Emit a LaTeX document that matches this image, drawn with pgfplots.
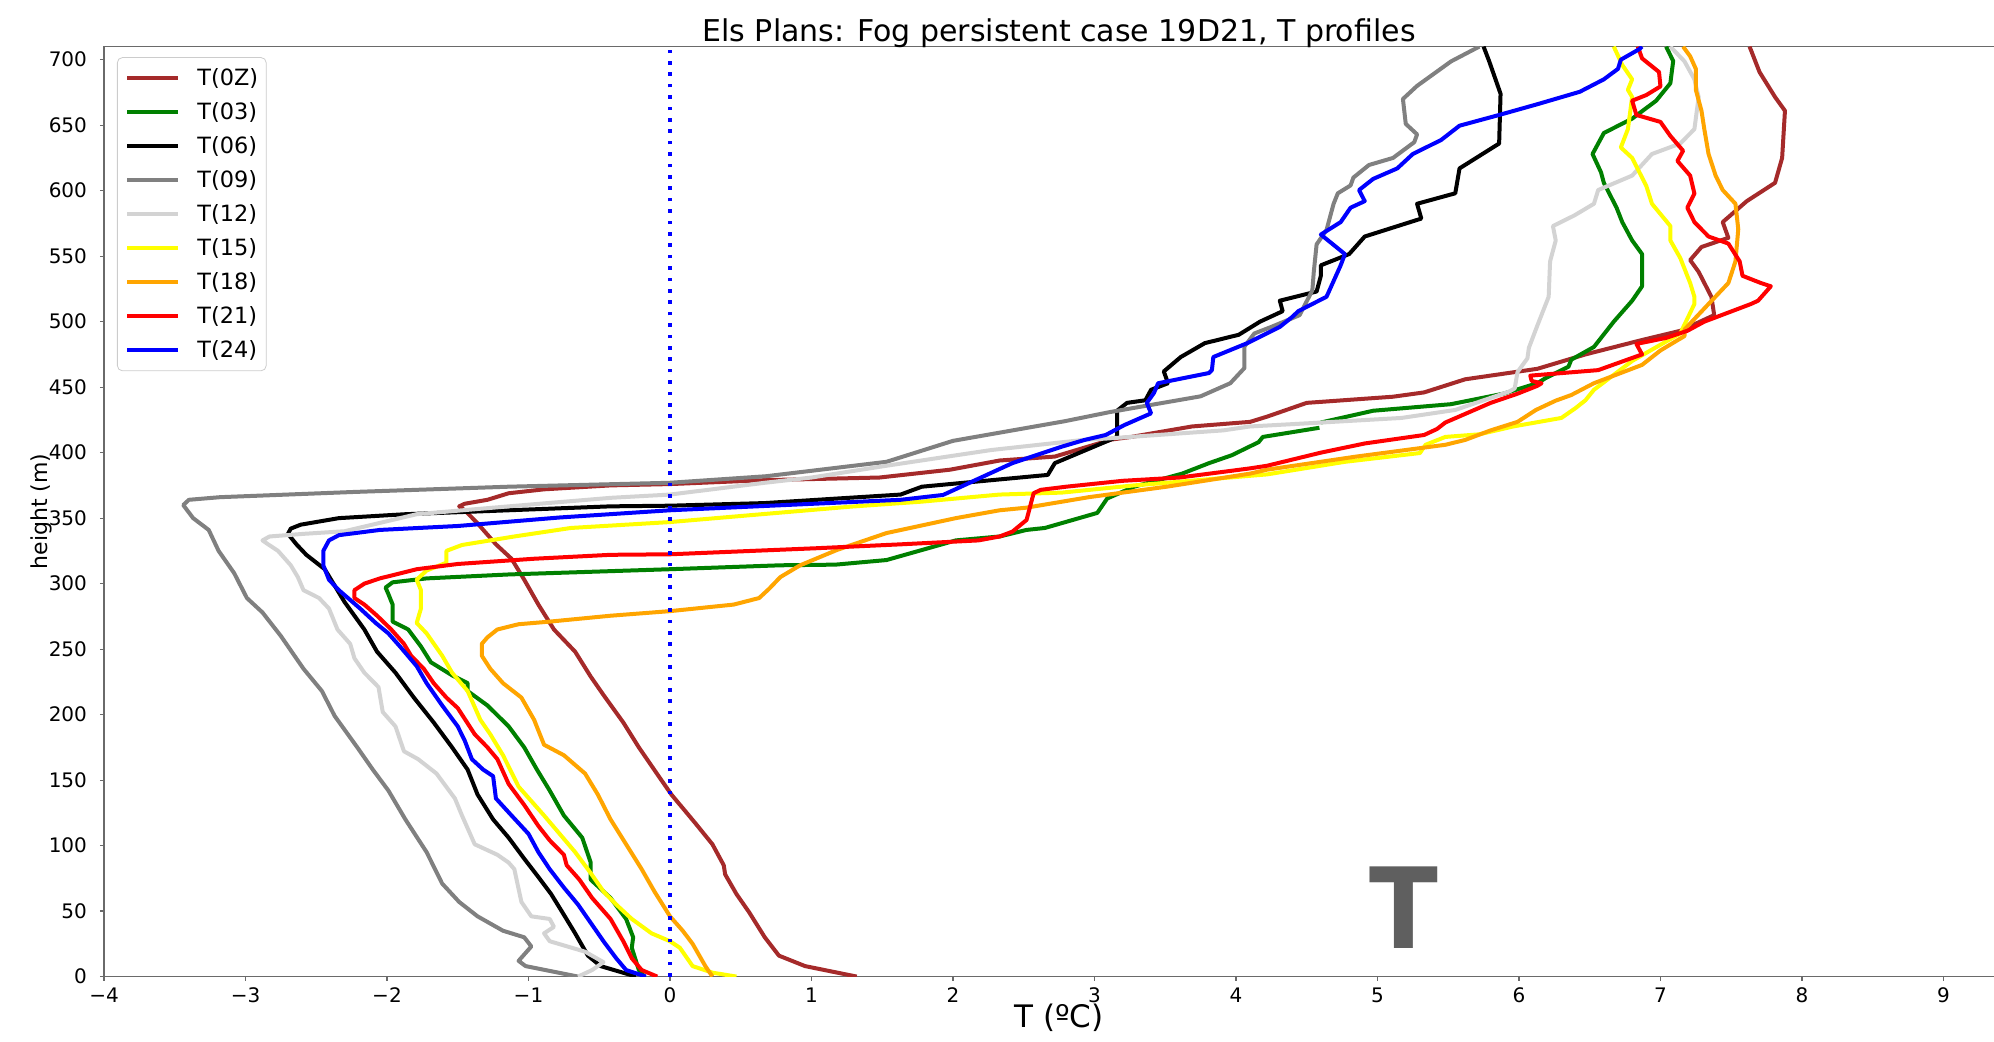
\documentclass[border=0pt]{standalone}
\usepackage{pgfplots}
\pgfplotsset{compat=1.18}
\usepackage{fontspec}
\setmainfont{DejaVu Sans}
\definecolor{cbrown}{HTML}{A52A2A}
\definecolor{cgreen}{HTML}{008000}
\definecolor{cgray}{HTML}{808080}
\definecolor{clgray}{HTML}{D3D3D3}
\definecolor{cyellow}{HTML}{FFFF00}
\definecolor{corange}{HTML}{FFA500}
\definecolor{cred}{HTML}{FF0000}
\definecolor{cblue}{HTML}{0000FF}
\definecolor{bigT}{HTML}{5F5F5F}
\definecolor{spine}{HTML}{6A6A6A}
\begin{document}
\begin{tikzpicture}
\useasboundingbox (-52pt,-32.65pt) rectangle (945pt,488.3pt);
\begin{axis}[
  scale only axis, width=955.1pt, height=465pt,
  xmin=-4, xmax=9.5, ymin=0, ymax=710,
  xtick={-4,-3,-2,-1,0,1,2,3,4,5,6,7,8,9},
  xticklabels={−4,−3,−2,−1,0,1,2,3,4,5,6,7,8,9},
  ytick={0,50,...,700},
  /pgf/number format/assume math mode=true,
  tick pos=left, tick align=outside, major tick length=2pt,
  tick style={spine, line width=0.6pt},
  axis line style={spine, line width=0.8pt},
  ticklabel style={font=\fontsize{10}{12}\selectfont},
  xticklabel style={anchor=base, yshift=-11pt},
  yticklabel style={anchor=east, xshift=-3pt},
  xlabel={T (ºC)},
  xlabel style={font=\fontsize{15.5}{18}\selectfont, at={(axis description cs:0.5,-0.0546)}, anchor=base},
  ylabel={height (m)},
  ylabel style={font=\fontsize{11}{13}\selectfont, at={(axis description cs:-0.033,0.5)}, anchor=center},
  title={Els Plans: Fog persistent case 19D21, T profiles},
  every axis title shift=0pt,
  title style={font=\fontsize{15}{18}\selectfont, at={(axis description cs:0.5,1.006)}, anchor=base},
  every axis plot/.append style={line width=2pt, line join=round, mark=none},
  unbounded coords=jump,
  legend cell align=left,
  legend image code/.code={\draw[#1] (0pt,0pt) -- (25.5pt,0pt);},
  legend style={at={(axis description cs:0,1)}, anchor=north west, xshift=6.5pt, yshift=-5.3pt,
    draw=black!20, rounded corners=2.5pt, fill=white, fill opacity=0.8, text opacity=1, draw opacity=1,
    inner xsep=4pt, inner ysep=5.3pt, row sep=7pt, nodes={inner sep=0pt},
    font=\fontsize{11.2}{13}\selectfont,
    /tikz/every odd column/.append style={column sep=8.5pt}},
]
% T(0Z)
\addplot[cbrown] coordinates {
(1.32,0) (0.955,8) (0.77,16) (0.67,30) (0.56,49) (0.47,63) (0.39,78) (0.38,85) (0.30,101) (0.18,117) (0.01,139) (-0.08,153) (-0.22,175) (-0.33,194) (-0.47,215) (-0.56,229) (-0.67,248) (-0.82,265) (-0.93,284) (-1.03,303) (-1.12,319) (-1.23,330) (-1.36,346) (-1.45,356) (-1.49,359) (-1.45,361) (-1.29,364) (-1.14,369) (-0.89,372) (-0.42,375) (0,376) (0.67,379) (1.48,381) (1.98,387) (2.33,394) (2.72,397) (3.12,410) (3.26,412) (3.69,420) (4.10,423.5) (4.22,427.5) (4.50,438) (5.11,442.7) (5.33,446) (5.62,456) (6.13,464) (6.47,475) (6.87,486) (7.14,493) (7.38,505) (7.36,519) (7.27,538) (7.21,547) (7.29,557) (7.48,564) (7.44,576) (7.61,592) (7.81,606) (7.86,625) (7.88,661) (7.81,671.5) (7.70,690.6) (7.63,710)};
\addlegendentry{T(0Z)}
% T(03)
\addplot[cgreen] coordinates {
(-0.18,0) (-0.22,5) (-0.27,22) (-0.26,30) (-0.31,44) (-0.42,60) (-0.56,74) (-0.56,87) (-0.62,106) (-0.75,123) (-0.85,142) (-0.94,158) (-1.03,175) (-1.14,191) (-1.29,207) (-1.43,218) (-1.43,224) (-1.54,230) (-1.69,240) (-1.76,252) (-1.85,265) (-1.96,271) (-1.96,284) (-1.99,292) (-2.01,297) (-1.96,301) (-1.72,304) (-1.14,307) (0,311) (0.78,314) (1.17,314.5) (1.53,318) (2.02,333) (2.33,336) (2.52,341) (2.65,342.5) (3.02,354) (3.09,365) (3.28,374) (3.62,384) (3.81,392) (3.97,398) (4.16,408) (4.19,412) (4.59,419)
(4.6,nan)
(4.60,423) (4.97,432) (5.52,437) (5.89,445) (6.13,453) (6.19,457) (6.35,465.6) (6.37,471) (6.53,480.7) (6.67,500) (6.80,516) (6.87,527) (6.87,551.6) (6.80,562) (6.73,576) (6.69,587) (6.60,606) (6.58,614) (6.52,628) (6.60,644) (6.80,655) (6.97,668.7) (7.07,682) (7.09,699) (7.04,710)};
\addlegendentry{T(03)}
% T(06)
\addplot[black] coordinates {
(-0.24,0) (-0.27,1) (-0.49,8) (-0.58,16) (-0.67,33) (-0.76,49) (-0.84,63) (-0.93,76) (-1.03,90) (-1.14,106) (-1.25,120) (-1.36,139) (-1.43,158) (-1.54,175) (-1.67,194) (-1.81,213) (-1.94,232) (-2.07,248) (-2.16,265) (-2.30,286) (-2.44,311) (-2.57,322) (-2.64,330) (-2.70,338) (-2.68,342) (-2.61,345) (-2.34,350) (-1.87,353) (-1.14,356) (-0.42,359) (0,359.5) (0.67,361.5) (1.63,368) (1.78,374) (2.67,383) (2.72,392) (3.16,412) (3.16,432) (3.23,438) (3.36,440) (3.40,448) (3.52,453) (3.49,462) (3.61,473) (3.78,483.6) (4.02,490) (4.17,500) (4.33,508) (4.31,516) (4.57,523) (4.60,535) (4.60,543) (4.80,551.6) (4.91,565) (5.31,578.7) (5.28,590) (5.55,598) (5.58,617) (5.86,636) (5.87,674) (5.79,698.7) (5.75,710)};
\addlegendentry{T(06)}
% T(09)
\addplot[cgray] coordinates {
(-0.65,0) (-1.02,8) (-1.07,12) (-0.98,23) (-1.03,30) (-1.18,35) (-1.36,46) (-1.49,57) (-1.61,71) (-1.72,95) (-1.87,120) (-1.99,142) (-2.10,158) (-2.21,175) (-2.37,199) (-2.46,218) (-2.59,235) (-2.75,260) (-2.88,278) (-2.99,289) (-3.08,308) (-3.19,325) (-3.26,341) (-3.37,350) (-3.44,360) (-3.40,364) (-3.18,366) (-2.23,370) (-1.14,374) (0,377) (0.68,382) (1.53,393) (2.0,409) (2.79,424) (3.11,431) (3.75,443) (3.96,453) (4.06,464.6) (4.06,481) (4.13,491) (4.25,496) (4.45,505) (4.54,524) (4.55,538) (4.57,559) (4.64,570) (4.69,590) (4.72,598) (4.81,604) (4.83,610) (4.94,619.6) (5.11,625) (5.26,637) (5.28,643) (5.20,651) (5.18,670) (5.28,680) (5.52,698.7) (5.72,710)};
\addlegendentry{T(09)}
% T(12)
\addplot[clgray] coordinates {
(-0.65,0) (-0.55,5) (-0.47,11) (-0.60,19) (-0.85,27) (-0.89,33) (-0.82,38) (-0.85,44) (-0.98,46) (-1.05,57) (-1.10,82) (-1.14,87) (-1.22,93) (-1.38,101) (-1.47,123) (-1.52,136) (-1.65,155) (-1.78,166) (-1.88,172) (-1.94,191) (-2.03,202) (-2.06,221) (-2.16,232) (-2.23,243) (-2.26,254) (-2.35,265) (-2.41,281) (-2.48,289) (-2.59,295) (-2.63,305) (-2.68,314) (-2.77,325) (-2.84,330) (-2.88,333) (-2.83,336) (-2.59,338) (-2.30,340) (-1.79,353) (-1.14,359) (-0.42,365.5) (0,368) (0.67,377) (1.0,381) (1.53,390) (2.27,402) (2.92,409.7) (3.12,411) (3.91,417) (4.10,420) (4.54,422.6) (5.17,426.5) (5.55,432.6) (5.93,446.6) (5.97,449) (5.99,461.6) (6.06,472) (6.07,480) (6.13,497) (6.21,519) (6.22,546) (6.26,562) (6.24,573) (6.39,581) (6.53,590) (6.56,600.5) (6.80,611.5) (6.94,628) (7.14,636) (7.24,647) (7.27,671.5) (7.24,685) (7.17,698.7) (7.07,710)};
\addlegendentry{T(12)}
% T(15)
\addplot[cyellow] coordinates {
(0.47,0) (0.30,3) (0.16,8) (0.07,22) (0,27) (-0.13,33) (-0.27,44) (-0.38,55) (-0.47,65) (-0.56,79) (-0.67,95) (-0.78,109) (-0.89,123) (-1.07,145) (-1.18,169) (-1.27,185) (-1.34,196) (-1.43,218) (-1.54,232) (-1.61,245) (-1.72,262) (-1.79,270) (-1.76,281) (-1.76,295) (-1.79,303) (-1.72,310) (-1.58,316) (-1.58,325) (-1.47,329.5) (-1.10,336) (-0.70,342.5) (0,347) (0.54,352) (1.28,358.8) (1.78,362.6) (2.33,368) (2.77,369.5) (3.28,375) (3.51,377) (4.22,383.4) (4.77,393) (5.30,399.7) (5.34,406) (5.48,412) (5.72,414) (5.96,420) (6.30,426.5) (6.40,434) (6.47,440) (6.53,448) (6.80,470) (7.14,491) (7.24,513.5) (7.24,519) (7.21,529.5) (7.14,548.6) (7.07,562) (7.07,573) (6.94,590) (6.90,603.6) (6.80,625) (6.72,633) (6.77,647) (6.80,671.5) (6.77,677) (6.80,685) (6.73,696) (6.67,710)};
\addlegendentry{T(15)}
% T(18)
\addplot[corange] coordinates {
(0.30,0) (0.25,8) (0.16,25) (0.09,35) (0,46) (-0.11,65) (-0.20,82) (-0.31,101) (-0.42,120) (-0.51,139) (-0.60,155) (-0.75,169) (-0.89,177) (-0.96,196) (-1.05,213) (-1.18,224) (-1.27,235) (-1.33,245) (-1.33,254) (-1.29,259) (-1.22,265) (-1.07,269) (-0.85,271) (-0.42,275.5) (0,279) (0.45,284) (0.63,289) (0.70,296) (0.78,305) (0.92,314) (1.18,325.7) (1.53,338.6) (2.02,350) (2.33,356) (2.52,358) (2.96,366) (3.51,374) (4.10,384) (4.22,387) (4.85,397) (5.48,406) (5.62,409.7) (5.80,417) (5.99,423.5) (6.12,432.6) (6.26,439.7) (6.37,444) (6.53,453) (6.87,467) (7.00,478) (7.17,489) (7.17,494) (7.34,513.5) (7.48,529.5) (7.53,546) (7.55,570.6) (7.53,590) (7.44,600.5) (7.39,611.5) (7.34,628) (7.31,647) (7.29,661) (7.25,677) (7.25,693) (7.21,702.6) (7.16,710)};
\addlegendentry{T(18)}
% T(21)
\addplot[cred] coordinates {
(-0.09,0) (-0.20,5) (-0.27,14) (-0.33,27) (-0.42,44) (-0.55,60) (-0.64,74) (-0.73,85) (-0.75,93) (-0.85,104) (-0.93,115) (-1.03,131) (-1.14,147) (-1.22,166) (-1.29,175) (-1.38,185) (-1.50,205) (-1.58,213) (-1.67,224) (-1.74,235) (-1.83,245) (-1.88,254) (-1.97,265) (-2.07,275.5) (-2.16,284) (-2.23,289) (-2.23,295) (-2.16,300) (-2.05,304) (-1.79,311) (-1.50,315) (-0.96,319) (-0.42,322) (0,322.4) (1.03,327) (1.63,330) (2.18,333) (2.33,336) (2.42,339.7) (2.52,348.6) (2.57,369) (2.62,371.6) (2.80,374) (3.2,378.5) (3.6,381) (4.10,388) (4.22,390) (4.60,400) (4.91,407) (5.33,413.5) (5.42,418) (5.48,423) (5.80,438) (5.99,445) (6.13,451) (6.16,453) (6.09,454.7) (6.08,458.8) (6.56,463) (6.87,475) (6.83,483) (7.04,487.6) (7.19,493) (7.31,500) (7.64,513.5) (7.69,516) (7.78,527) (7.71,529.5) (7.58,535) (7.56,546) (7.48,559.6) (7.34,565) (7.24,576) (7.19,587) (7.24,597.8) (7.21,611.5) (7.12,622.7) (7.16,630.5) (7.07,641.8) (7.00,652.5) (6.83,657.8) (6.80,668.7) (6.90,673) (7.00,679.6) (6.99,690.6) (6.87,701) (6.84,710)};
\addlegendentry{T(21)}
% T(24)
\addplot[cblue] coordinates {
(-0.17,0) (-0.31,5) (-0.38,14) (-0.47,27) (-0.56,41) (-0.65,55) (-0.75,68) (-0.85,82) (-0.93,95) (-1.00,109) (-1.12,123) (-1.23,136) (-1.25,153) (-1.32,158) (-1.40,166) (-1.45,180) (-1.50,191) (-1.61,207) (-1.72,224) (-1.79,237) (-1.90,251) (-1.99,262) (-2.08,270) (-2.19,281) (-2.34,295) (-2.41,303) (-2.45,314) (-2.45,325) (-2.41,333) (-2.34,337) (-2.05,341) (-1.50,344) (-0.78,350.5) (0,356) (1.63,364) (1.93,367.7) (2.42,392) (2.77,404.6) (2.93,409.7) (3.08,413.5) (3.21,421) (3.40,430) (3.37,438) (3.42,445.5) (3.45,453) (3.81,460.8) (3.83,463) (3.84,473) (4.08,483.6) (4.31,496) (4.40,503.8) (4.44,508) (4.64,519) (4.74,543) (4.77,551.6) (4.60,566.5) (4.74,576) (4.81,587) (4.91,592) (4.87,600.5) (4.97,609) (5.14,617) (5.25,628) (5.45,638.7) (5.58,649.6) (5.86,657.8) (6.13,666) (6.43,675.5) (6.60,685) (6.70,693) (6.72,700) (6.85,708) (6.87,710)};
\addlegendentry{T(24)}
% zero line
\addplot[cblue, line width=2pt, dash pattern=on 1.8pt off 3.9pt, line cap=butt, forget plot] coordinates {(0,0) (0,710)};
\node[text=bigT, font=\bfseries\fontsize{56}{60}\selectfont, inner sep=0pt] at (axis cs:5.185,52.5) {\scalebox{0.9}[1]{T}};
\end{axis}
\end{tikzpicture}
\end{document}
